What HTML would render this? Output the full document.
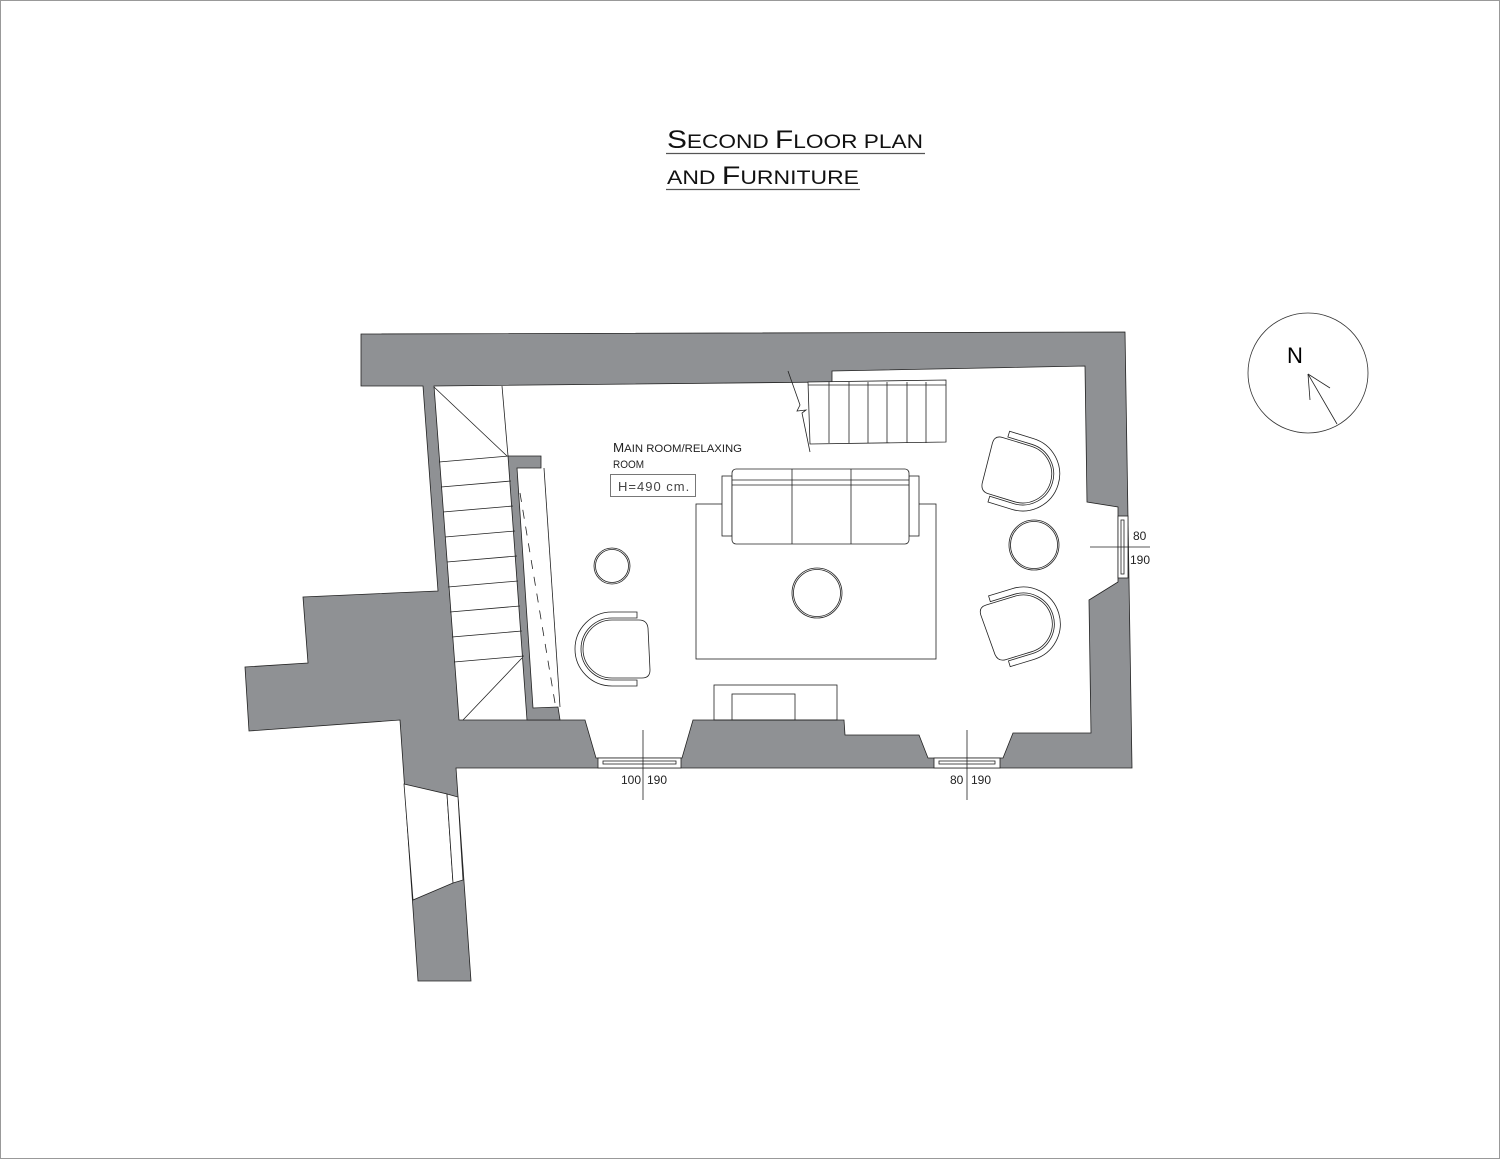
<!DOCTYPE html>
<html><head><meta charset="utf-8"><style>
html,body{margin:0;padding:0;background:#fff;}
svg{display:block}
text{font-family:"Liberation Sans",sans-serif;}
</style></head><body>
<svg width="1500" height="1159" viewBox="0 0 1500 1159" xmlns="http://www.w3.org/2000/svg">
<rect x="0.5" y="0.5" width="1499" height="1158" fill="#fff" stroke="#999" stroke-width="1"/>
<!-- title -->
<text x="667" y="148" font-size="19" fill="#111" textLength="256" lengthAdjust="spacingAndGlyphs"><tspan font-size="25">S</tspan>ECOND <tspan font-size="25">F</tspan>LOOR PLAN</text>
<line x1="666" y1="153.5" x2="925" y2="153.5" stroke="#555" stroke-width="1.2"/>
<text x="667" y="184" font-size="19" fill="#111" textLength="192" lengthAdjust="spacingAndGlyphs">AND <tspan font-size="25">F</tspan>URNITURE</text>
<line x1="666" y1="189.5" x2="860" y2="189.5" stroke="#555" stroke-width="1.2"/>

<g stroke="#222" stroke-width="0.8">
<polygon fill="#8f9194" points="361,334 1125,332 1132,768 456,768 471,981 418,981 400,720 249,731 245,667 308,663 303,597 438,591 423,386 361,386"/>
<polygon fill="#fff" points="404,784 447,794 453,883 413,900"/>
<polygon fill="#fff" points="447,794 458,797 463,880 453,883"/>
<polygon fill="#fff" points="434,386 832,382 832,371 1085,366 1087,502 1118,507 1118,582 1089,600 1091,733 1013,733 1003,758 928,758 919,735 845,735 844,720 693,720 682,758 596,758 585,720 459,720"/>
<polygon fill="#8f9194" points="508,456 541,456 541,468 517,468 533,708 558,707 560,720 527,720"/>
<rect x="598" y="758" width="83" height="10" fill="#fff"/>
<rect x="603" y="761" width="73" height="3" fill="none"/>
<rect x="934" y="758" width="66" height="10" fill="#fff"/>
<rect x="939" y="761" width="56" height="3" fill="none"/>
<rect x="1118" y="516" width="10" height="62" fill="#fff"/>
<rect x="1121" y="520" width="3" height="54" fill="none"/>
</g>

<g stroke="#222" stroke-width="0.8" fill="none">
<line x1="502" y1="386" x2="508" y2="456"/>
<line x1="434" y1="387" x2="507" y2="456"/>
<line x1="439" y1="462" x2="509" y2="456"/>
<line x1="441" y1="487" x2="511" y2="481"/>
<line x1="443" y1="512" x2="513" y2="506"/>
<line x1="445" y1="537" x2="515" y2="531"/>
<line x1="447" y1="562" x2="517" y2="556"/>
<line x1="448" y1="587" x2="518" y2="581"/>
<line x1="450" y1="612" x2="520" y2="606"/>
<line x1="452" y1="637" x2="522" y2="631"/>
<line x1="454" y1="662" x2="524" y2="656"/>
<line x1="463" y1="720" x2="522" y2="658"/>
<line x1="544" y1="468" x2="560" y2="707"/>
<line x1="520" y1="493" x2="555" y2="703" stroke-dasharray="9,8"/>
<polygon points="808,382 946,380 946,442 810,444" fill="#fff"/>
<line x1="808" y1="385" x2="946" y2="385"/>
<line x1="829" y1="382" x2="829" y2="443"/>
<line x1="849" y1="382" x2="849" y2="443"/>
<line x1="868" y1="382" x2="868" y2="443"/>
<line x1="887" y1="382" x2="887" y2="443"/>
<line x1="907" y1="382" x2="907" y2="443"/>
<line x1="926" y1="382" x2="926" y2="443"/>
<polyline points="788,371 800,405 797,411 806,410 802,413 810,452"/>
<rect x="696" y="504" width="240" height="155"/>
<rect x="722" y="476" width="10" height="60" fill="#fff"/>
<rect x="909" y="476" width="10" height="60" fill="#fff"/>
<rect x="732" y="469" width="177" height="75" rx="4" fill="#fff"/>
<line x1="732" y1="480" x2="909" y2="480"/>
<line x1="732" y1="485" x2="909" y2="485"/>
<line x1="792" y1="469" x2="792" y2="544"/>
<line x1="851" y1="469" x2="851" y2="544"/>
<circle cx="817" cy="593" r="25"/><circle cx="817" cy="593" r="23.5"/>
<circle cx="1034" cy="545" r="25"/><circle cx="1034" cy="545" r="23.5"/>
<circle cx="612" cy="566" r="18"/><circle cx="612" cy="566" r="16.5"/>
<rect x="714" y="685" width="123" height="35"/>
<rect x="732" y="694" width="63" height="26"/>
</g>

<defs>
<g id="chair" fill="#fff" stroke="#222" stroke-width="0.8">
<path d="M25,-38 L0,-38 A37,37 0 0 0 0,36 L25,36 L25,30 L0,30 A31,31 0 0 1 0,-32 L25,-32 Z"/>
<path d="M0,-30 A29,29 0 0 0 0,28 L30,28 Q38,28 38,20 L36,-22 Q35,-30 27,-30 Z"/>
</g>
</defs>
<use href="#chair" transform="translate(612,650)"/>
<use href="#chair" transform="translate(1023,473) rotate(197)"/>
<use href="#chair" transform="translate(1023,623) rotate(163)"/>

<text x="613" y="452" font-size="11" fill="#222" textLength="129" lengthAdjust="spacingAndGlyphs"><tspan font-size="13">M</tspan>AIN ROOM/RELAXING</text>
<text x="613" y="468" font-size="11" fill="#222" textLength="31" lengthAdjust="spacingAndGlyphs">ROOM</text>
<rect x="610.5" y="474.5" width="85" height="22" fill="none" stroke="#555" stroke-width="0.8"/>
<text x="618" y="491" font-size="13" letter-spacing="1" fill="#444">H=490 cm.</text>

<g stroke="#222" stroke-width="0.8">
<line x1="643" y1="730" x2="643" y2="800"/>
<line x1="967" y1="730" x2="967" y2="800"/>
<line x1="1090" y1="547" x2="1150" y2="547"/>
</g>
<g font-size="12" fill="#222">
<text x="621" y="784">100</text><text x="647" y="784">190</text>
<text x="950" y="784">80</text><text x="971" y="784">190</text>
<text x="1133" y="540">80</text><text x="1130" y="564">190</text>
</g>

<circle cx="1308" cy="373" r="60" fill="none" stroke="#333" stroke-width="0.8"/>
<text x="1287" y="363" font-size="22" fill="#000">N</text>
<g stroke="#222" stroke-width="0.8">
<line x1="1337" y1="424" x2="1308" y2="374"/>
<line x1="1308" y1="374" x2="1310" y2="400"/>
<line x1="1308" y1="374" x2="1330" y2="388"/>
</g>
</svg>
</body></html>
